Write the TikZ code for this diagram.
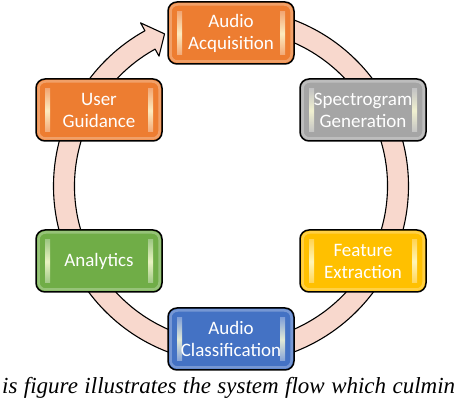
\documentclass[tikz,border=0pt]{standalone}
\usepackage{fontspec}
\newfontfamily\procfont{Carlito}
\newfontfamily\capfont{Liberation Serif}
\definecolor{ringfill}{RGB}{248,216,205}
\definecolor{cOrange}{RGB}{237,125,49}
\definecolor{cGray}{RGB}{165,165,165}
\definecolor{cGold}{RGB}{255,192,0}
\definecolor{cBlue}{RGB}{68,114,196}
\definecolor{cGreen}{RGB}{112,173,71}
\begin{document}
\begin{tikzpicture}[x=1pt,y=1pt,
  proc/.style={rectangle, rounded corners=9pt, minimum width=126pt, minimum height=62pt,
    inner sep=0pt, draw=black, line width=1.5pt, fill=#1, text=white, align=center,
    font=\procfont\fontsize{19}{22}\selectfont,
    path picture={
      \draw[#1!55!white, line width=2.5pt, rounded corners=7pt, opacity=0.6]
        ([shift={(2.5pt,2.5pt)}]path picture bounding box.south west) rectangle
        ([shift={(-2.5pt,-2.5pt)}]path picture bounding box.north east);
      \shade[sharp corners, top color=#1!60!white, bottom color=#1!60!white, middle color=white!85!yellow, opacity=0.85]
        ([shift={(9pt,9pt)}]path picture bounding box.south west) rectangle
        ([shift={(14pt,-10pt)}]path picture bounding box.north west);
      \shade[sharp corners, top color=#1!60!white, bottom color=#1!60!white, middle color=white!85!yellow, opacity=0.85]
        ([shift={(-14pt,9pt)}]path picture bounding box.south east) rectangle
        ([shift={(-9pt,-10pt)}]path picture bounding box.north east);
    }},
  ring/.style={draw=black, line width=1.1pt, fill=ringfill, line join=round}
]
\useasboundingbox (0,0) rectangle (458,406);
\coordinate (c) at (231,220);
% cycle arrow
\draw[ring, shift={(c)}] (85:177.5) arc[start angle=85, end angle=-241, radius=177.5]
  -- (-241:186.5) -- (-246.4:166) -- (-241:148.5) -- (-241:156.5)
  arc[start angle=-241, end angle=85, radius=156.5] -- cycle;
% steps
\node[proc=cOrange] (acq) at (231,373) {Audio\\Acquisition};
\node[proc=cGray] (spec) at (363,296) {Spectrogram\\Generation};
\node[proc=cGold] (feat) at (363,145) {Feature\\Extraction};
\node[proc=cBlue] (cls) at (231,67) {Audio\\Classification};
\node[proc=cGreen] (ana) at (99,145) {Analytics};
\node[proc=cOrange] (user) at (99,296) {User\\Guidance};
% caption
\node[anchor=base west, inner sep=0pt, font=\capfont\itshape\fontsize{23}{26}\selectfont] (cap) at (2,12)
  {\makebox[453pt][s]{is figure illustrates the system flow which culmin}};
\end{tikzpicture}
\end{document}
